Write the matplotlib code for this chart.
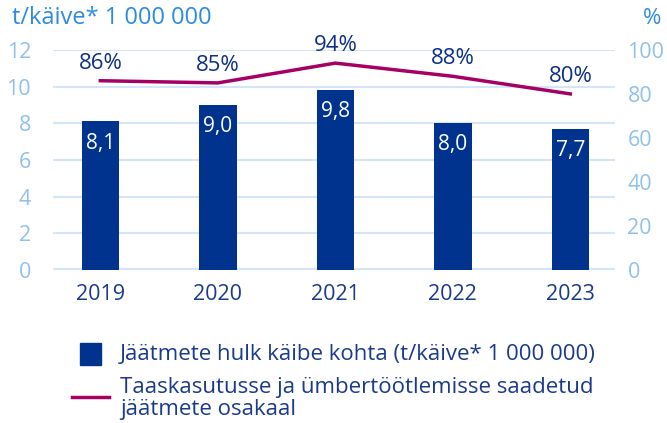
import matplotlib.pyplot as plt
from matplotlib.lines import Line2D
from matplotlib.patches import Rectangle

plt.rcParams['font.family'] = ['Open Sans', 'DejaVu Sans']

years = ['2019', '2020', '2021', '2022', '2023']
waste = [8.1, 9.0, 9.8, 8.0, 7.7]
share = [86, 85, 94, 88, 80]
waste_labels = ['8,1', '9,0', '9,8', '8,0', '7,7']

BAR = '#00338d'
LINE = '#a50064'
GRID = '#d3e5f6'
TICK = '#8fc1ec'
UNIT = '#2d8be0'
TEXT = '#1a3a8c'

fig = plt.figure(figsize=(6.67, 4.23), dpi=100)
ax = fig.add_axes([0.08, 0.362, 0.842, 0.52])
ax2 = ax.twinx()

x = range(len(years))
ax.bar(x, waste, width=0.32, color=BAR, zorder=3)
for i, v in enumerate(waste):
    ax.annotate(waste_labels[i], (i, v), xytext=(0, -8), textcoords='offset points',
                ha='center', va='top', color='white', fontsize=15, zorder=4)

ax2.plot(x, share, color=LINE, lw=2.5, zorder=5)
for i, v in enumerate(share):
    ax2.annotate(f'{v}%', (i, v), xytext=(0, 5), textcoords='offset points',
                 ha='center', va='bottom', color='#0d2f86', fontsize=16)

ax.set_ylim(0, 12)
ax2.set_ylim(0, 100)
ax.set_xlim(-0.4, 4.38)
ax.set_yticks(range(0, 13, 2))
ax2.set_yticks(range(0, 101, 20))
ax.set_xticks(list(x))
ax.set_xticklabels(years)

for a in (ax, ax2):
    for s in a.spines.values():
        s.set_visible(False)
    a.tick_params(length=0)
ax.tick_params(axis='y', colors=TICK, labelsize=15.5, pad=16)
ax2.tick_params(axis='y', colors=TICK, labelsize=15.5, pad=9)
ax.tick_params(axis='x', colors=TEXT, labelsize=15.5, pad=10)

for t in range(0, 13, 2):
    ax.axhline(t, color=GRID, lw=3 if t == 0 else 1.5, zorder=1)
ax.set_zorder(ax2.get_zorder() - 1)
ax.patch.set_visible(False)
ax2.patch.set_visible(False)

fig.text(0.018, 0.957, 't/käive* 1 000 000', color=UNIT, fontsize=17, va='center')
fig.text(0.992, 0.957, '%', color=UNIT, fontsize=16, va='center', ha='right')

# legend
fig.add_artist(Rectangle((0.12, 0.137), 0.031, 0.052, color=BAR, transform=fig.transFigure))
fig.text(0.18, 0.163, 'Jäätmete hulk käibe kohta (t/käive* 1 000 000)',
         color=TEXT, fontsize=16, va='center')
fig.add_artist(Line2D([0.108, 0.163], [0.061, 0.061], color=LINE, lw=2.5,
                      transform=fig.transFigure))
fig.text(0.18, 0.058, 'Taaskasutusse ja ümbertöötlemisse saadetud\njäätmete osakaal',
         color=TEXT, fontsize=16, va='center', linespacing=1.12)

fig.savefig('out.png', dpi=100)
